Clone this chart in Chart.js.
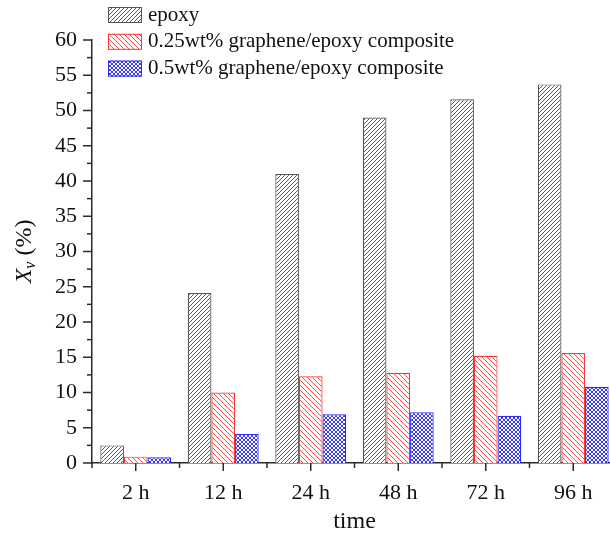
<!DOCTYPE html>
<html>
<head>
<meta charset="utf-8">
<script src="https://cdn.jsdelivr.net/npm/chart.js@4.4.1/dist/chart.umd.min.js"></script>
<style>
  html, body { margin: 0; padding: 0; background: #fff; overflow: hidden; }
  #wrap { width: 620px; height: 535px; }
</style>
</head>
<body>
<div id="wrap"><canvas id="chart" width="620" height="535"></canvas></div>
<script>
// data
const categories = ['2 h', '12 h', '24 h', '48 h', '72 h', '96 h'];
const seriesNames = ['epoxy', '0.25wt% graphene/epoxy composite', '0.5wt% graphene/epoxy composite'];
const epoxy = [2.5, 24.1, 41.0, 49.0, 51.6, 53.7];
const graphene025 = [0.9, 10.0, 12.3, 12.8, 15.2, 15.6];
const graphene05 = [0.8, 4.1, 6.9, 7.2, 6.7, 10.8];
const yMin = 0, yMax = 60, yStep = 5;

const serif = "'Liberation Serif', 'Times New Roman', serif";

// small tiled patterns for the hatched bars
function makeHatch(size, color, dirs) {
    const c = document.createElement('canvas');
    c.width = c.height = size;
    const g = c.getContext('2d');
    g.fillStyle = '#fff';
    g.fillRect(0, 0, size, size);
    g.strokeStyle = color;
    g.lineWidth = 1;
    dirs.forEach((d) => {
        for (let k = -1; k <= 1; k++) {
            g.beginPath();
            if (d === '/') {
                g.moveTo(k * size - 1, size + 1);
                g.lineTo(k * size + size + 1, -1);
            } else {
                g.moveTo(k * size - 1, -1);
                g.lineTo(k * size + size + 1, size + 1);
            }
            g.stroke();
        }
    });
    return g.createPattern(c, 'repeat');
}

const fills = [
    makeHatch(4, '#5c5c5c', ['/']),
    makeHatch(5, '#ff4d4d', ['\\']),
    makeHatch(4, '#3434ff', ['/', '\\'])
];
const borders = ['#555555', '#ff3333', '#2a2aff'];
const seriesData = [epoxy, graphene025, graphene05];

// ticks, titles and legend drawn by hand
const decorations = {
    id: 'decorations',
    afterDraw(chart) {
        const ctx = chart.ctx;
        const area = chart.chartArea;
        const xs = chart.scales.x, ys = chart.scales.y;
        ctx.save();
        ctx.strokeStyle = '#2a2a2a';
        ctx.lineWidth = 1.5;

        // y ticks: major at labels, minor half-way
        for (let v = yMin; v <= yMax; v += yStep / 2) {
            const py = ys.getPixelForValue(v);
            const len = v % yStep === 0 ? 9 : 5;
            ctx.beginPath();
            ctx.moveTo(area.left - len, py);
            ctx.lineTo(area.left, py);
            ctx.stroke();
        }
        // x ticks: major at category centres, minor at boundaries
        for (let i = 0; i < categories.length; i++) {
            const px = xs.getPixelForValue(i);
            ctx.beginPath();
            ctx.moveTo(px, area.bottom);
            ctx.lineTo(px, area.bottom + 8);
            ctx.stroke();
        }
        for (let i = 0; i <= categories.length; i++) {
            const px = xs.getPixelForValue(i - 0.5);
            ctx.beginPath();
            ctx.moveTo(px, area.bottom);
            ctx.lineTo(px, area.bottom + 5);
            ctx.stroke();
        }

        // x title
        ctx.fillStyle = '#111';
        ctx.font = '24px ' + serif;
        ctx.textAlign = 'center';
        ctx.textBaseline = 'middle';
        ctx.fillText('time', (area.left + area.right) / 2, 522);

        // y title: X_v (%)
        ctx.save();
        ctx.translate(23, (area.top + area.bottom) / 2);
        ctx.rotate(-Math.PI / 2);
        ctx.textAlign = 'left';
        ctx.textBaseline = 'alphabetic';
        const fX = 'italic 24px ' + serif, fV = 'italic 16px ' + serif, fP = '24px ' + serif;
        ctx.font = fX; const wX = ctx.measureText('X').width;
        ctx.font = fV; const wV = ctx.measureText('v').width;
        ctx.font = fP; const wP = ctx.measureText(' (%)').width;
        let x0 = -(wX + wV + wP) / 2;
        ctx.font = fX; ctx.fillText('X', x0, 8); x0 += wX;
        ctx.font = fV; ctx.fillText('v', x0, 12); x0 += wV;
        ctx.font = fP; ctx.fillText(' (%)', x0, 8);
        ctx.restore();

        // legend
        ctx.font = '21px ' + serif;
        ctx.textAlign = 'left';
        ctx.textBaseline = 'middle';
        ctx.lineWidth = 1;
        seriesNames.forEach((name, i) => {
            const cy = 15 + i * 26.8;
            ctx.fillStyle = fills[i];
            ctx.fillRect(108, cy - 8, 34, 16);
            ctx.strokeStyle = borders[i];
            ctx.strokeRect(108.5, cy - 7.5, 33, 15);
            ctx.fillStyle = '#111';
            ctx.fillText(name, 148, cy);
        });
        ctx.restore();
    }
};

new Chart(document.getElementById('chart'), {
    type: 'bar',
    data: {
        labels: categories,
        datasets: seriesNames.map((name, i) => ({
            label: name,
            data: seriesData[i],
            backgroundColor: fills[i],
            borderColor: borders[i],
            borderWidth: 1.2,
            categoryPercentage: 0.81,
            barPercentage: 1.0
        }))
    },
    options: {
        responsive: false,
        animation: false,
        layout: { padding: { top: 40, right: 3, left: 0, bottom: 0 } },
        plugins: {
            legend: { display: false },
            tooltip: { enabled: false }
        },
        scales: {
            x: {
                grid: { display: false, drawTicks: false },
                border: { display: true, color: '#2a2a2a', width: 1.5 },
                ticks: { color: '#111', padding: 17, font: { family: serif, size: 22 } },
                afterFit: (scale) => { scale.height = 72; }
            },
            y: {
                min: yMin,
                max: yMax,
                grid: { display: false, drawTicks: false },
                border: { display: true, color: '#2a2a2a', width: 1.5 },
                ticks: { stepSize: yStep, color: '#111', padding: 15, font: { family: serif, size: 22 } },
                afterFit: (scale) => { scale.width = 92; }
            }
        }
    },
    plugins: [decorations]
});
</script>
</body>
</html>
